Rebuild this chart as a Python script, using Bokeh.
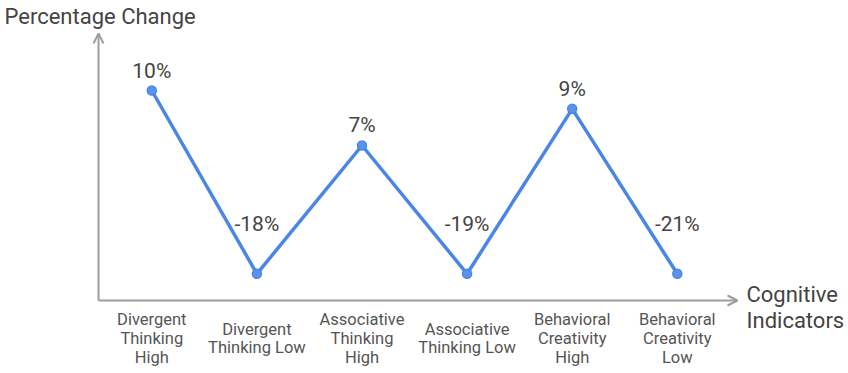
import numpy as np
from bokeh.plotting import figure
from bokeh.models import Range1d, Arrow, OpenHead, ColumnDataSource
from bokeh.core.properties import value
from bokeh.embed import file_html
from bokeh.resources import INLINE

# ---- data ----
categories = ["Divergent\nThinking\nHigh", "Divergent\nThinking Low",
              "Associative\nThinking\nHigh", "Associative\nThinking Low",
              "Behavioral\nCreativity\nHigh", "Behavioral\nCreativity\nLow"]
values = [10, -18, 7, -19, 9, -21]
y_title = "Percentage Change"
x_title = "Cognitive\nIndicators"

# ---- layout constants (page pixels) ----
W, H = 848, 373
PX_PER_X = 105.1
X0_PX = 151.3
PX_PER_Y = 18.33
Y0_PX = 273.3

def fx(page_x):
    return (page_x - X0_PX) / PX_PER_X

def fy(page_y):
    return (Y0_PX - page_y) / PX_PER_Y

FONT = value("Roboto")
TEXT_COLOR = "#444444"
LINE_COLOR = "#4a86e8"
AXIS_COLOR = "#9e9e9e"

p = figure(width=W, height=H, output_backend="svg", toolbar_location=None,
           x_axis_type=None, y_axis_type=None, min_border=0,
           x_range=Range1d(fx(0), fx(W)),
           y_range=Range1d(fy(H), fy(0)))
p.outline_line_color = None
p.background_fill_color = "white"
p.border_fill_color = "white"
p.xgrid.visible = False
p.ygrid.visible = False

xs = np.arange(len(values))
vals = np.array(values, dtype=float)
y_plot = np.maximum(vals, 0)
label_off_px = np.where(vals >= 0, 20, 50)
label_y = y_plot + label_off_px / PX_PER_Y
labels = [f"{v:.0f}%" for v in values]

src = ColumnDataSource(dict(x=xs, y=y_plot, ly=label_y, lab=labels, cat=categories,
                            cy=np.full(len(values), fy(338))))

# axes
ax_x = fx(98)
ax_y = fy(300)
p.add_layout(Arrow(end=OpenHead(size=10, line_color=AXIS_COLOR, line_width=2),
                   x_start=ax_x, y_start=ax_y, x_end=ax_x, y_end=fy(33),
                   line_color=AXIS_COLOR, line_width=2))
p.add_layout(Arrow(end=OpenHead(size=10, line_color=AXIS_COLOR, line_width=2),
                   x_start=ax_x, y_start=ax_y, x_end=fx(737), y_end=ax_y,
                   line_color=AXIS_COLOR, line_width=2))

# line + points
p.line("x", "y", source=src, line_color=LINE_COLOR, line_width=3.5)
p.scatter("x", "y", source=src, size=9, fill_color="#5b93ec", line_color=LINE_COLOR, line_width=1.5)

# value labels
p.text("x", "ly", text="lab", source=src, text_font=FONT, text_font_size="21px",
       text_color=TEXT_COLOR, text_align="center", text_baseline="middle")

# category labels
p.text("x", "cy", text="cat", source=src, text_font=FONT, text_font_size="16.5px",
       text_color="#555555", text_align="center", text_baseline="middle",
       text_line_height=0.98)

# axis titles
p.text(x=[fx(4)], y=[fy(16)], text=[y_title], text_font=FONT, text_font_size="22px",
       text_color=TEXT_COLOR, text_align="left", text_baseline="middle")
p.text(x=[fx(746)], y=[fy(307)], text=[x_title], text_font=FONT, text_font_size="22px",
       text_color=TEXT_COLOR, text_align="left", text_baseline="middle",
       text_line_height=1.05)

open("out.html", "w").write(file_html(p, INLINE))
